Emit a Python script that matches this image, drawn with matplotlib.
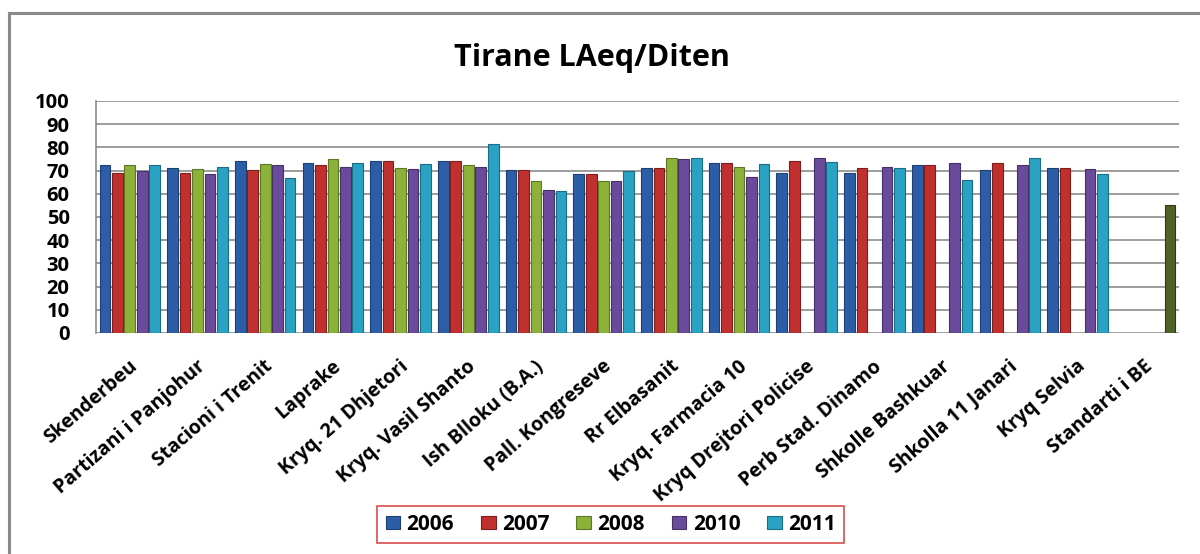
import numpy as np
import matplotlib
matplotlib.use("Agg")
import matplotlib.pyplot as plt
from matplotlib.lines import Line2D

plt.rcParams['font.family'] = ['Open Sans', 'DejaVu Sans']

# data
sites = ['Skenderbeu', 'Partizani i Panjohur', 'Stacioni i Trenit', 'Laprake',
         'Kryq. 21 Dhjetori', 'Kryq. Vasil Shanto', 'Ish Blloku (B.A.)',
         'Pall. Kongreseve', 'Rr Elbasanit', 'Kryq. Farmacia 10',
         'Kryq Drejtori Policise', 'Perb Stad. Dinamo', 'Shkolle Bashkuar',
         'Shkolla 11 Janari', 'Kryq Selvia', 'Standarti i BE']
years = ['2006', '2007', '2008', '2010', '2011']
nan = np.nan
y2006 = [72.2, 71.2, 74.3, 73.3, 74.3, 74.3, 70.2, 68.6, 71.2, 73.3, 69.0, 69.0, 72.2, 70.2, 71.2, nan]
y2007 = [68.9, 68.9, 70.2, 72.2, 74.3, 74.3, 70.2, 68.4, 71.2, 73.3, 74.3, 71.2, 72.2, 73.3, 71.2, nan]
y2008 = [72.2, 70.6, 72.7, 74.8, 71.0, 72.2, 65.3, 65.3, 75.2, 71.6, nan, nan, nan, nan, nan, nan]
y2010 = [69.9, 68.4, 72.2, 71.6, 70.6, 71.6, 61.8, 65.6, 74.9, 67.4, 75.3, 71.7, 73.3, 72.2, 70.6, nan]
y2011 = [72.2, 71.6, 66.9, 73.2, 72.7, 81.6, 61.1, 69.7, 75.2, 72.7, 73.7, 71.0, 65.9, 75.3, 68.4, 55.2]
series = [y2006, y2007, y2008, y2010, y2011]

colors = ['#2c5ea8', '#c0302e', '#8cb23a', '#6a4a9a', '#2aa2c4']
edges = ['#1d3f72', '#7e1f1e', '#5d7826', '#463166', '#1b6d84']
std_color = '#4f6228'

fig = plt.figure(figsize=(12, 5.54), dpi=100)
ax = fig.add_axes([0.080, 0.399, 0.9025, 0.4188])

x = np.arange(len(sites))
step = 0.184
width = 0.158
for k, (vals, name) in enumerate(zip(series, years)):
    bars = ax.bar(x + (k - 2) * step, vals, width, color=colors[k],
                  edgecolor=edges[k], linewidth=0.8, label=name, zorder=3)
# the EU standard bar is drawn in its own colour
bars[-1].set_facecolor(std_color)
bars[-1].set_edgecolor('#2f3b18')

ax.set_xlim(-0.5, len(sites) - 0.5)
ax.set_ylim(0, 100)
ax.set_yticks(np.arange(0, 101, 10))
ax.yaxis.grid(True, color='#8c8c8c', linewidth=1.2, zorder=0)
ax.set_axisbelow(True)
for s in ['top', 'right', 'bottom']:
    ax.spines[s].set_visible(False)
ax.spines['left'].set_color('#8c8c8c')
ax.spines['left'].set_linewidth(1.2)
ax.tick_params(axis='y', length=0, pad=19, labelsize=14.5)
ax.tick_params(axis='x', length=0, pad=17, labelsize=14)
for lab in ax.get_yticklabels():
    lab.set_fontweight('bold')
ax.set_xticks(x - 0.02)
ax.set_xticklabels(sites, rotation=41, ha='right', rotation_mode='anchor',
                   fontweight='bold')

fig.text(0.493, 0.895, 'Tirane LAeq/Diten', ha='center', va='center',
         fontsize=22, fontweight='bold')

leg = fig.legend(loc='center', bbox_to_anchor=(0.509, 0.053), ncol=5,
                 frameon=True, fancybox=False, handlelength=0.7,
                 handleheight=0.6, handletextpad=0.3, columnspacing=1.3,
                 prop={'weight': 'bold', 'size': 15}, borderpad=0.4)
leg.get_frame().set_edgecolor('#d02020')
leg.get_frame().set_linewidth(1.2)

# chart area border
fig.add_artist(Line2D([9 / 1200, 9 / 1200], [0, 1 - 13 / 554],
                      color='#8a8a8a', linewidth=2.2))
fig.add_artist(Line2D([9 / 1200, 1], [1 - 13 / 554, 1 - 13 / 554],
                      color='#8a8a8a', linewidth=2.2))

fig.savefig('out.png', dpi=100)
